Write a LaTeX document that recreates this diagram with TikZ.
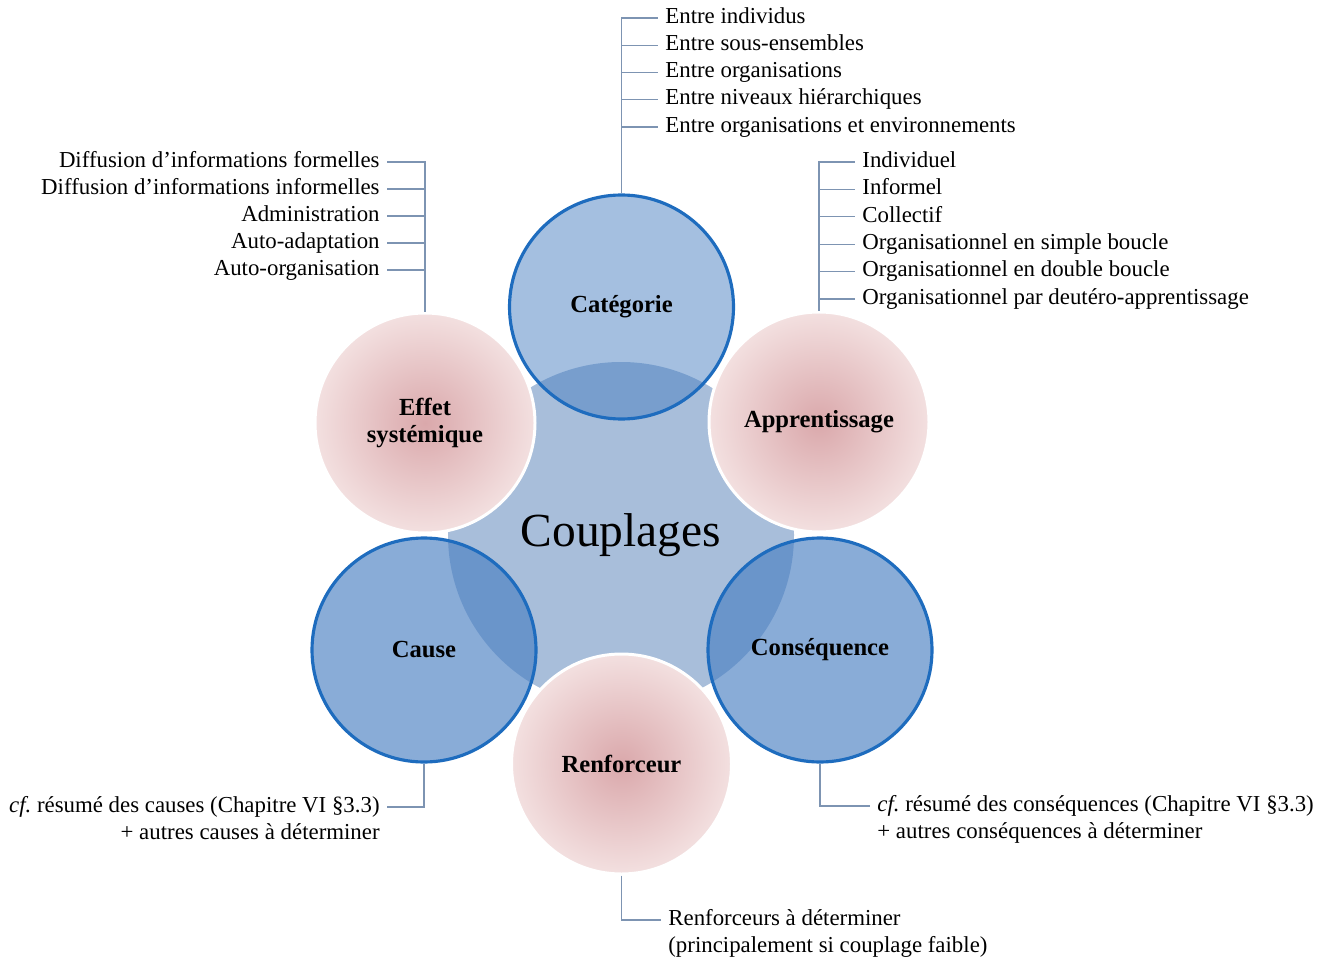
\documentclass[tikz,border=0pt]{standalone}
\usepackage{fontspec}
\setmainfont{Liberation Serif}
\definecolor{bleucercle}{RGB}{74,128,194}
\definecolor{bleubord}{RGB}{30,108,190}
\definecolor{bleucentre}{RGB}{168,190,218}
\definecolor{roseint}{RGB}{218,168,171}
\definecolor{roseext}{RGB}{243,224,224}
\definecolor{trait}{RGB}{125,148,178}
\tikzset{
    bleu/.style={circle, minimum size=4.48cm, inner sep=0pt, fill=bleucercle, fill opacity=.65, text opacity=1, draw=bleubord, line width=1.8pt, font=\fontsize{14}{15}\selectfont\bfseries, align=center},
    rose/.style={circle, minimum size=4.4cm, inner sep=0pt, shading=radial, inner color=roseint, outer color=roseext, draw=white, line width=1.7pt, font=\fontsize{14}{15}\selectfont\bfseries, align=center},
    liste/.style={inner ysep=1pt, inner xsep=4pt, font=\fontsize{13}{15}\selectfont, text height=1.6ex, text depth=.3ex},
    lien/.style={trait, line width=.7pt}
}
\begin{document}
\begin{tikzpicture}
    \useasboundingbox (0,0) rectangle (26.5,19.24);
    \node[circle, minimum size=6.92cm, inner sep=0pt, fill=bleucentre, font=\fontsize{27}{30}\selectfont] (coupl) at (12.42,8.54) {Couplages};

    \node[bleu, fill opacity=.5] (cat) at (12.43,13.1) {Catégorie};
    \node[bleu] (cau) at (8.48,6.24) {Cause};
    \node[bleu] (cons) at (16.4,6.24) {Conséquence};
    \node[rose] (eff) at (8.5,10.78) {Effet\\systémique};
    \node[rose] (app) at (16.38,10.8) {Apprentissage};
    \node[rose] (ren) at (12.43,3.96) {Renforceur};

    \foreach \t [count=\i from 0] in {Entre individus, Entre sous-ensembles, Entre organisations, Entre niveaux hiérarchiques, Entre organisations et environnements}
        \node[liste, anchor=west] (cat\i) at (13.16,18.88-0.545*\i) {\t};
    \draw[lien] (cat.north) |- (cat0.west);
    \foreach \i in {1,...,4}
        \draw[lien] (cat.north |- cat\i.west) -- (cat\i.west);

    \foreach \t [count=\i from 0] in {Diffusion d’informations formelles, Diffusion d’informations informelles, Administration, Auto-adaptation, Auto-organisation}
        \node[liste, anchor=east] (eff\i) at (7.74,16.0-0.54*\i) {\t};
    \draw[lien] (eff.north) |- (eff0.east);
    \foreach \i in {1,...,4}
        \draw[lien] (eff.north |- eff\i.east) -- (eff\i.east);

    \foreach \t [count=\i from 0] in {Individuel, Informel, Collectif, Organisationnel en simple boucle, Organisationnel en double boucle, Organisationnel par deutéro-apprentissage}
        \node[liste, anchor=west] (app\i) at (17.1,16.0-0.548*\i) {\t};
    \draw[lien] (app.north) |- (app0.west);
    \foreach \i in {1,...,5}
        \draw[lien] (app.north |- app\i.west) -- (app\i.west);

    \node[liste, anchor=east] (cau0) at (7.74,3.1) {\textit{cf.}\ résumé des causes (Chapitre VI §3.3)};
    \node[liste, anchor=east] (cau1) at (7.74,2.56) {+ autres causes à déterminer};
    \draw[lien] (cau.south) |- (cau0.east);

    \node[liste, anchor=west] (cons0) at (17.4,3.12) {\textit{cf.}\ résumé des conséquences (Chapitre VI §3.3)};
    \node[liste, anchor=west] (cons1) at (17.4,2.58) {+ autres conséquences à déterminer};
    \draw[lien] (cons.south) |- (cons0.west);

    \node[liste, anchor=west] (ren0) at (13.22,0.84) {Renforceurs à déterminer};
    \node[liste, anchor=west] (ren1) at (13.22,0.3) {(principalement si couplage faible)};
    \draw[lien] (ren.south) |- (ren0.west);
\end{tikzpicture}
\end{document}
